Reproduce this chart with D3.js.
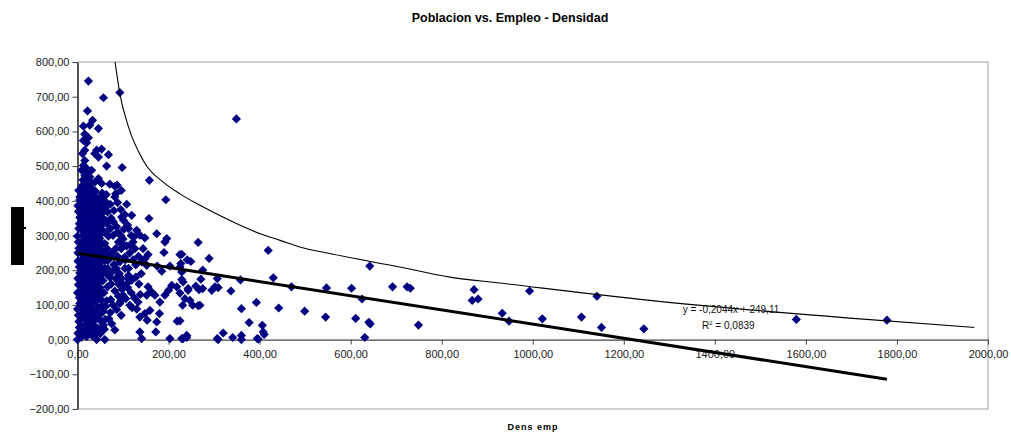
<!DOCTYPE html>
<html>
<head>
<meta charset="utf-8">
<script src="https://cdn.jsdelivr.net/npm/d3@7"></script>
<style>
  body { margin: 0; background: #fff; }
  #chart { width: 1011px; height: 433px; }
  text { font-family: "Liberation Sans", Arial, sans-serif; }
</style>
</head>
<body>
<div id="chart"></div>
<script>
"use strict";

// ticks
const xTicks = [0, 200, 400, 600, 800, 1000, 1200, 1400, 1600, 1800, 2000];
const yTicks = [-200, -100, 0, 100, 200, 300, 400, 500, 600, 700, 800];

// scattered points [dens emp, densidad]
const outerPoints = [
  [24, 745], [93, 712], [57, 697], [22, 659], [33, 632], [13, 615], [46, 608], [27, 618],
  [16, 592], [24, 582], [13, 574], [20, 567], [16, 546], [11, 536], [42, 546], [53, 549],
  [46, 526], [68, 533], [38, 536], [64, 500], [98, 496], [158, 459], [13, 502], [9, 488],
  [20, 483], [31, 488], [16, 473], [27, 469], [46, 464], [53, 450], [38, 454], [71, 448],
  [82, 442], [87, 445], [13, 440], [20, 430], [27, 421], [57, 411], [82, 411], [194, 403],
  [5, 411], [35, 411], [349, 636],
];

const midPoints = [
  [157, 349], [119, 358], [97, 353], [101, 344], [79, 339], [86, 325], [174, 305], [196, 291],
  [192, 281], [130, 315], [137, 301], [148, 293], [112, 320], [90, 281], [101, 272], [122, 281],
  [126, 262], [155, 245], [148, 233], [141, 224], [152, 214], [190, 251], [225, 245], [175, 212],
  [185, 197], [203, 212], [227, 219], [71, 238], [93, 224], [104, 238], [112, 185], [119, 171],
  [108, 161], [97, 176], [155, 152], [163, 137], [170, 128], [152, 128], [181, 108], [192, 128],
  [200, 142], [207, 156], [218, 152], [232, 166], [243, 147], [93, 104], [115, 99], [133, 108],
  [159, 84], [148, 75], [180, 75], [174, 51], [153, 56], [137, 65], [219, 53], [75, 46],
  [42, 75], [35, 65], [49, 56], [57, 41], [27, 51], [38, 36], [137, 22], [141, 3],
  [172, 22], [203, 3], [232, 3], [240, 12], [42, 0], [60, 0], [0, 0], [24, 99], [27, 84], [13, 89],
  [72, 320], [78, 300], [84, 262], [76, 250], [88, 240], [95, 300], [100, 290], [108, 270],
  [115, 250], [122, 230], [128, 215], [76, 195], [85, 205], [92, 190], [100, 158], [110, 150],
  [118, 135], [125, 120], [74, 160], [82, 140], [90, 125], [73, 115], [78, 100], [86, 86],
  [96, 70], [72, 78], [82, 28], [105, 230], [112, 205], [90, 160], [98, 145], [74, 350],
  [80, 372], [72, 390], [88, 395], [95, 375], [104, 360], [71, 180], [106, 118], [128, 180],
  [135, 160], [140, 190], [120, 92], [130, 88], [138, 130], [110, 330], [118, 300], [84, 420],
  [96, 430], [108, 390], [80, 216], [96, 262], [104, 205], [116, 272], [124, 296], [88, 310],
  [102, 318], [66, 205], [84, 176], [94, 110], [112, 176], [100, 128], [134, 240], [144, 262],
];

const corePoints = [
  [1, 18], [3, 52], [0, 88], [4, 121], [2, 158], [5, 192], [1, 226], [3, 263], [0, 298], [4, 334],
  [2, 369], [5, 402], [0, 135], [1, 250], [3, 320],
  [8, 6], [9, 38], [7, 71], [10, 106], [8, 142], [11, 177], [7, 211], [9, 247], [10, 283], [8, 318],
  [11, 352], [7, 387], [9, 424], [12, 460],
  [14, 24], [15, 61], [13, 97], [16, 131], [14, 166], [17, 201], [13, 236], [15, 272], [16, 306],
  [14, 341], [17, 377], [15, 398], [16, 516],
  [20, 9], [21, 44], [19, 79], [22, 113], [20, 150], [23, 186], [19, 220], [21, 257], [22, 291],
  [20, 327], [23, 362], [19, 396], [22, 447], [21, 492],
  [26, 27], [27, 64], [25, 118], [28, 135], [26, 171], [29, 206], [25, 241], [27, 276], [28, 312],
  [26, 346], [29, 382], [27, 438],
  [32, 12], [33, 48], [31, 92], [34, 127], [32, 157], [35, 193], [31, 229], [33, 264], [34, 298],
  [32, 333], [35, 367], [33, 398],
  [38, 20], [39, 58], [37, 108], [40, 145], [38, 180], [41, 214], [37, 250], [39, 286], [40, 319],
  [38, 354], [41, 385], [39, 428],
  [44, 33], [45, 92], [43, 128], [46, 163], [44, 198], [47, 233], [43, 268], [45, 302], [46, 336],
  [44, 372], [47, 405],
  [50, 17], [51, 116], [49, 150], [52, 187], [50, 222], [53, 256], [49, 291], [51, 326], [52, 361],
  [50, 392], [54, 422],
  [57, 82], [58, 135], [56, 170], [59, 205], [57, 242], [60, 277], [56, 312], [58, 346], [61, 380],
  [59, 30],
  [64, 112], [66, 152], [63, 190], [67, 228], [65, 262], [68, 298], [64, 335], [66, 368], [63, 418],
  [69, 60],
];

// second layer of the packed cluster, between the first ones
const coreFill = [
  [4, 35], [2, 70], [5, 104], [1, 176], [4, 209], [2, 281], [5, 352], [1, 386], [3, 430],
  [11, 22], [12, 88], [11, 124], [12, 160], [10, 194], [12, 229], [11, 265], [12, 300], [10, 335],
  [12, 370], [10, 405], [11, 445],
  [17, 42], [18, 80], [17, 114], [18, 148], [17, 184], [18, 218], [16, 254], [18, 289], [17, 323],
  [18, 358], [17, 416], [18, 470],
  [24, 26], [24, 96], [23, 132], [24, 167], [25, 203], [23, 238], [24, 274], [25, 308], [23, 344],
  [24, 380], [25, 410], [24, 458],
  [30, 30], [29, 74], [30, 110], [30, 150], [29, 188], [30, 224], [30, 258], [29, 294], [30, 328],
  [29, 364], [30, 400], [31, 452],
  [36, 34], [36, 80], [35, 112], [36, 176], [35, 212], [36, 246], [35, 280], [36, 316], [35, 350],
  [36, 388], [36, 430],
  [42, 18], [41, 110], [42, 162], [42, 196], [41, 232], [42, 300], [41, 336], [42, 370], [42, 410],
  [48, 70], [47, 140], [48, 178], [48, 214], [47, 250], [48, 284], [48, 318], [47, 352], [48, 386],
  [54, 98], [55, 136], [53, 204], [55, 238], [54, 274], [53, 306], [55, 340], [54, 376],
  [61, 58], [62, 96], [61, 228], [62, 250], [60, 310], [62, 344], [61, 398],
];

const rightPoints = [
  [265, 280], [289, 234], [241, 230], [249, 225], [229, 246], [225, 209], [275, 200], [229, 195],
  [229, 173], [271, 174], [307, 176], [358, 172], [430, 178], [260, 154], [267, 144], [275, 147],
  [243, 142], [295, 142], [302, 152], [309, 150], [337, 140], [225, 134], [236, 118], [247, 113],
  [231, 99], [253, 99], [265, 98], [269, 99], [360, 89], [393, 107], [442, 91], [499, 82],
  [225, 54], [377, 49], [406, 41], [408, 22], [410, 15], [320, 19], [229, 3], [240, 6],
  [309, 0], [341, 6], [360, 12], [360, 0], [397, 1], [307, 3], [395, 3], [419, 257], [470, 152],
  [642, 212], [547, 149], [602, 148], [692, 152], [724, 152], [731, 148], [625, 117], [545, 65],
  [611, 61], [640, 50], [643, 45], [749, 42], [631, 6], [871, 144], [867, 113], [880, 117],
  [993, 140], [933, 76], [948, 53], [1021, 60], [1107, 65], [1141, 125], [1151, 35], [1244, 31],
  [1579, 58], [1778, 56],
];

// thin curve
const curvePoints = [
  [82, 805], [93, 709], [112, 613], [144, 517], [192, 450], [225, 420], [269, 387], [335, 343],
  [401, 305], [445, 286], [488, 267], [554, 248], [708, 209], [818, 180], [928, 163],
  [1257, 113], [1696, 62], [1970, 35],
];

// linear trend line shown in the chart: y = -0,2044x + 249,11
const trendSlope = -0.2044;
const trendIntercept = 249.11;
const trendRange = [0, 1778];

window.addEventListener("load", function () {
  draw();
});

function draw() {
  const w = 1011;
  const h = 433;
  const left = 77.5;
  const right = 988;
  const top = 62;
  const bottom = 409;

  const svg = d3
    .select("#chart")
    .append("svg")
    .attr("width", w)
    .attr("height", h);

  const x = d3.scaleLinear().domain([0, 2000]).range([left, right]);
  const y = d3.scaleLinear().domain([-200, 800]).range([bottom, top]);

  const fmt = d3
    .formatLocale({ decimal: ",", thousands: "", grouping: [3], currency: ["", ""] })
    .format(".2f");

  // plot area border
  svg
    .append("rect")
    .attr("x", left)
    .attr("y", top)
    .attr("width", right - left)
    .attr("height", bottom - top)
    .attr("fill", "none")
    .attr("stroke", "#a0a0a0")
    .attr("stroke-width", 1);

  // title
  svg
    .append("text")
    .attr("x", 510)
    .attr("y", 22)
    .attr("text-anchor", "middle")
    .attr("font-size", "12.5px")
    .attr("font-weight", "bold")
    .text("Poblacion vs. Empleo - Densidad");

  // y axis
  const yAxis = svg
    .append("g")
    .attr("transform", `translate(${left},0)`)
    .call(d3.axisLeft(y).tickValues(yTicks).tickFormat(fmt).tickSize(5).tickSizeOuter(0).tickPadding(3));
  yAxis.select(".domain").attr("stroke", "#444").attr("stroke-width", 1.8);
  yAxis.selectAll(".tick line").attr("stroke", "#444");
  yAxis.selectAll("text").attr("font-size", "11px").attr("fill", "#222")
    .style("font-family", '"Liberation Sans", Arial, sans-serif');

  // x axis at y = 0
  const xAxis = svg
    .append("g")
    .attr("transform", `translate(0,${y(0)})`)
    .call(d3.axisBottom(x).tickValues(xTicks).tickFormat(fmt).tickSize(5).tickSizeOuter(0).tickPadding(6));
  xAxis.select(".domain").attr("stroke", "#444").attr("stroke-width", 1.3);
  xAxis.selectAll(".tick line").attr("stroke", "#444");
  xAxis.selectAll("text").attr("font-size", "11px").attr("fill", "#222")
    .style("font-family", '"Liberation Sans", Arial, sans-serif');

  // x axis title
  svg
    .append("text")
    .attr("x", 533)
    .attr("y", 430)
    .attr("text-anchor", "middle")
    .attr("font-size", "9px")
    .attr("font-weight", "bold")
    .attr("letter-spacing", "1px")
    .text("Dens emp");

  // y axis title (rendered as a black box in the original)
  svg.append("rect").attr("x", 11).attr("y", 207).attr("width", 13).attr("height", 58).attr("fill", "#000");
  svg.append("rect").attr("x", 24).attr("y", 227).attr("width", 2).attr("height", 2).attr("fill", "#000");

  // scatter
  const points = [].concat(corePoints, coreFill, midPoints, outerPoints, rightPoints);
  const diamond = "M0,-4.6L4.6,0L0,4.6L-4.6,0Z";
  svg
    .append("g")
    .selectAll("path")
    .data(points)
    .enter()
    .append("path")
    .attr("d", diamond)
    .attr("transform", (d) => `translate(${x(d[0])},${y(d[1])})`)
    .attr("fill", "#000080");

  // thin curve
  svg
    .append("clipPath")
    .attr("id", "plotclip")
    .append("rect")
    .attr("x", left)
    .attr("y", top)
    .attr("width", right - left)
    .attr("height", bottom - top);

  const line = d3
    .line()
    .x((d) => x(d[0]))
    .y((d) => y(d[1]))
    .curve(d3.curveMonotoneX);

  svg
    .append("path")
    .datum(curvePoints)
    .attr("clip-path", "url(#plotclip)")
    .attr("d", line)
    .attr("fill", "none")
    .attr("stroke", "#000")
    .attr("stroke-width", 1.1);

  // trend line
  const trend = trendRange.map((v) => [v, trendSlope * v + trendIntercept]);
  svg
    .append("path")
    .datum(trend)
    .attr("d", d3.line().x((d) => x(d[0])).y((d) => y(d[1])))
    .attr("fill", "none")
    .attr("stroke", "#000")
    .attr("stroke-width", 3);

  // equation label
  const eq = svg.append("g").attr("font-size", "10px").attr("fill", "#111");
  eq.append("text")
    .attr("x", 731)
    .attr("y", 313)
    .attr("text-anchor", "middle")
    .text("y = -0,2044x + 249,11");
  const r2 = eq.append("text").attr("x", 702).attr("y", 329);
  r2.append("tspan").text("R");
  r2.append("tspan").attr("font-size", "6px").attr("dy", "-4").text("2");
  r2.append("tspan").attr("dy", "4").text(" = 0,0839");
}
</script>
</body>
</html>
